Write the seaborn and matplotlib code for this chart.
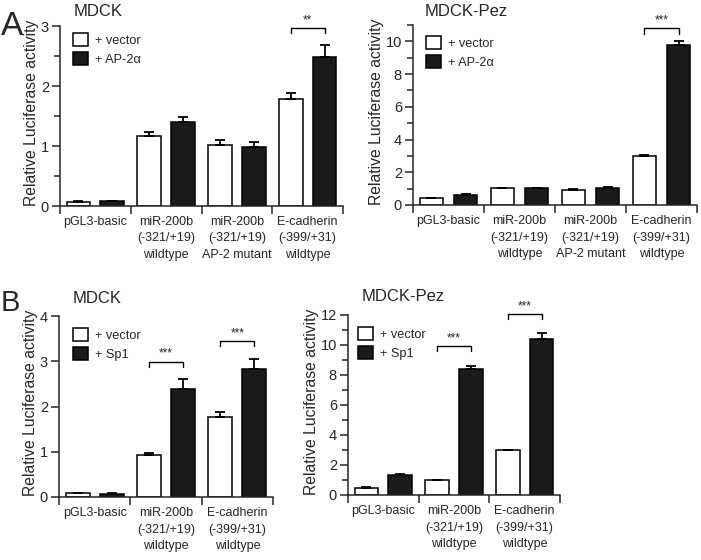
import numpy as np
import pandas as pd
import matplotlib.pyplot as plt
import matplotlib.transforms as mtransforms
import seaborn as sns

# promoter constructs
groups_a = ['pGL3-basic',
            'miR-200b\n(-321/+19)\nwildtype',
            'miR-200b\n(-321/+19)\nAP-2 mutant',
            'E-cadherin\n(-399/+31)\nwildtype']
groups_b = ['pGL3-basic',
            'miR-200b\n(-321/+19)\nwildtype',
            'E-cadherin\n(-399/+31)\nwildtype']

# A, MDCK (+ vector / + AP-2a)
a_mdck_vec = [0.07, 1.16, 1.02, 1.78]
a_mdck_vec_err = [0.01, 0.07, 0.08, 0.10]
a_mdck_ap2 = [0.08, 1.40, 0.99, 2.49]
a_mdck_ap2_err = [0.01, 0.08, 0.08, 0.20]

# A, MDCK-Pez
a_pez_vec = [0.41, 1.02, 0.94, 3.00]
a_pez_vec_err = [0.03, 0.04, 0.03, 0.08]
a_pez_ap2 = [0.61, 1.02, 1.04, 9.76]
a_pez_ap2_err = [0.04, 0.03, 0.03, 0.26]

# B, MDCK (+ vector / + Sp1)
b_mdck_vec = [0.08, 0.92, 1.77]
b_mdck_vec_err = [0.01, 0.05, 0.10]
b_mdck_sp1 = [0.07, 2.38, 2.83]
b_mdck_sp1_err = [0.01, 0.22, 0.21]

# B, MDCK-Pez
b_pez_vec = [0.49, 1.00, 2.98]
b_pez_vec_err = [0.04, 0.02, 0.05]
b_pez_sp1 = [1.33, 8.38, 10.42]
b_pez_sp1_err = [0.04, 0.25, 0.40]

# significance brackets: (group index, bracket height, label)
a_mdck_sig = [(3, 2.97, '**')]
a_pez_sig = [(3, 10.8, '***')]
b_mdck_sig = [(1, 2.99, '***'), (2, 3.45, '***')]
b_pez_sig = [(1, 9.93, '***'), (2, 12.07, '***')]

sns.set_style('ticks')
plt.rcParams['font.family'] = ['Liberation Sans', 'DejaVu Sans']

W, H = 701, 560
fig = plt.figure(figsize=(W / 100, H / 100), dpi=100)


def px_axes(left, top, right, bottom):
    return fig.add_axes([left / W, 1 - bottom / H, (right - left) / W, (bottom - top) / H])


def draw_panel(ax, groups, vec, vec_err, trt, trt_err, trt_label,
               ymax, major, minor, sig, leg_pos):
    n = len(groups)
    df = pd.DataFrame({
        'group': groups * 2,
        'cond': ['+ vector'] * n + [trt_label] * n,
        'value': vec + trt,
    })
    sns.barplot(data=df, x='group', y='value', hue='cond',
                palette=['white', '#1a1a1a'], saturation=1,
                width=0.96, gap=0.3, edgecolor='black', linewidth=1.1,
                errorbar=None, legend=False, ax=ax)
    bars = list(ax.containers)

    # upward error bars
    for cont, errs in zip(bars, [vec_err, trt_err]):
        for bar, e in zip(cont.patches, errs):
            x = bar.get_x() + bar.get_width() / 2
            ax.errorbar(x, bar.get_height(), yerr=[[0], [e]], fmt='none',
                        ecolor='black', elinewidth=1.3, capsize=3.4,
                        capthick=1.3, zorder=3)

    # brackets
    leg = 0.03 * ymax
    for gi, y, label in sig:
        b0 = bars[0].patches[gi]
        b1 = bars[1].patches[gi]
        x0 = b0.get_x() + b0.get_width() / 2
        x1 = b1.get_x() + b1.get_width() / 2
        ax.plot([x0, x0, x1, x1], [y - leg, y, y, y - leg], color='black',
                lw=1.0, clip_on=False)
        ax.text((x0 + x1) / 2, y + 0.01 * ymax, label, ha='center',
                va='bottom', fontsize=8.5)

    ax.set_xlim(-0.5, n - 0.5)
    ax.set_ylim(0, ymax)
    sns.despine(ax=ax)
    for sp in ax.spines.values():
        sp.set_linewidth(1.1)

    # x ticks mark the group boundaries; names sit centred below each group
    ax.set_xticks(np.arange(n + 1) - 0.5)
    ax.set_xticklabels([])
    ax.tick_params(axis='x', which='major', length=6, width=1.1)
    lab_tr = mtransforms.offset_copy(ax.get_xaxis_transform(), fig=fig,
                                     y=-10, units='dots')
    for i, g in enumerate(groups):
        ax.text(i, 0, g, transform=lab_tr, ha='center', va='top',
                fontsize=9, linespacing=1.5)

    ax.set_yticks(major)
    ax.set_yticks(minor, minor=True)
    ax.tick_params(axis='y', which='major', length=6, width=1.1,
                   labelsize=10.5, pad=2)
    ax.tick_params(axis='y', which='minor', length=4, width=1.1)

    ax.set_xlabel('')
    ax.set_ylabel('Relative Luciferase activity', fontsize=11.3, labelpad=1)
    ax.yaxis.label.set_y(0.52)

    handles = [c.patches[0] for c in bars]
    ax.legend(handles, ['+ vector', trt_label], loc='upper left',
              bbox_to_anchor=leg_pos, frameon=False, borderpad=0,
              borderaxespad=0, handlelength=1.2, handleheight=1.2,
              labelspacing=0.4, handletextpad=0.55, fontsize=9.2)


ax1 = px_axes(60, 26, 343, 206)
draw_panel(ax1, groups_a, a_mdck_vec, a_mdck_vec_err, a_mdck_ap2, a_mdck_ap2_err,
           '+ AP-2α', 3, [0, 1, 2, 3], [0.5, 1.5, 2.5], a_mdck_sig,
           (0.046, 0.96))

ax2 = px_axes(413, 25, 697, 205)
draw_panel(ax2, groups_a, a_pez_vec, a_pez_vec_err, a_pez_ap2, a_pez_ap2_err,
           '+ AP-2α', 11, [0, 2, 4, 6, 8, 10], [1, 3, 5, 7, 9, 11], a_pez_sig,
           (0.046, 0.94))

ax3 = px_axes(59, 316, 273, 497)
draw_panel(ax3, groups_b, b_mdck_vec, b_mdck_vec_err, b_mdck_sp1, b_mdck_sp1_err,
           '+ Sp1', 4, [0, 1, 2, 3, 4], [], b_mdck_sig, (0.065, 0.934))

ax4 = px_axes(348, 315, 560, 495)
draw_panel(ax4, groups_b, b_pez_vec, b_pez_vec_err, b_pez_sp1, b_pez_sp1_err,
           '+ Sp1', 12, [0, 2, 4, 6, 8, 10, 12], [1, 3, 5, 7, 9, 11], b_pez_sig,
           (0.047, 0.933))

# panel titles and letters
fig.text(74 / W, 1 - 4 / H, 'MDCK', fontsize=12, va='top')
fig.text(425 / W, 1 - 4 / H, 'MDCK-Pez', fontsize=12, va='top')
fig.text(73 / W, 1 - 291 / H, 'MDCK', fontsize=12, va='top')
fig.text(362 / W, 1 - 289 / H, 'MDCK-Pez', fontsize=12, va='top')
fig.text(1 / W, 1 - 11 / H, 'A', fontsize=24, va='top')
fig.text(1 / W, 1 - 289 / H, 'B', fontsize=21, va='top')

fig.savefig('out.png', dpi=100)
